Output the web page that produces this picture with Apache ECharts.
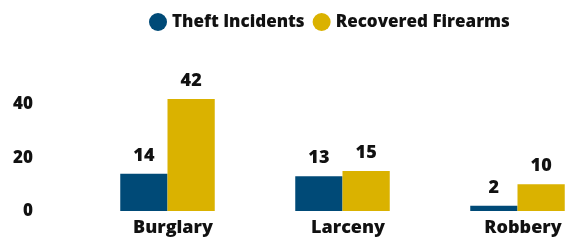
<!DOCTYPE html>
<html>
<head>
<meta charset="utf-8">
<script src="https://cdn.jsdelivr.net/npm/echarts@6/dist/echarts.min.js"></script>
<style>
  html, body { margin: 0; padding: 0; background: #fff; }
  #chart { width: 565px; height: 243px; }
</style>
</head>
<body>
<div id="chart"></div>
<script>
var categories = ['Burglary', 'Larceny', 'Robbery'];
var theftIncidents = [14, 13, 2];
var recoveredFirearms = [42, 15, 10];
var yTicks = [0, 20, 40];

var font = '"Open Sans", "Noto Sans", sans-serif';
var weight = 800;
var valueLabel = {
  show: true,
  position: 'top',
  distance: 9,
  fontFamily: font,
  fontWeight: weight,
  fontSize: 18,
  color: '#111'
};

var chart = echarts.init(document.getElementById('chart'));
chart.setOption({
  backgroundColor: '#fff',
  animation: false,
  legend: {
    top: 8,
    left: 144,
    icon: 'circle',
    itemWidth: 18,
    itemHeight: 18,
    itemGap: 8,
    textStyle: { fontFamily: font, fontWeight: weight, fontSize: 17, color: '#111' },
    data: ['Theft Incidents', 'Recovered Firearms']
  },
  grid: { left: 80, width: 525, top: 91, bottom: 32, outerBoundsMode: 'none' },
  xAxis: {
    type: 'category',
    data: categories,
    axisLine: { show: false },
    axisTick: { show: false },
    axisLabel: {
      fontFamily: font, fontWeight: weight, fontSize: 18, color: '#111',
      margin: 8, padding: [0, 0, 0, 11]
    }
  },
  yAxis: {
    type: 'value',
    min: yTicks[0],
    max: 45,
    interval: yTicks[1] - yTicks[0],
    splitLine: { show: false },
    axisLine: { show: false },
    axisTick: { show: false },
    axisLabel: {
      fontFamily: font, fontWeight: weight, fontSize: 17, color: '#111', margin: 47,
      formatter: function (v) { return yTicks.indexOf(v) >= 0 ? String(v) : ''; }
    }
  },
  series: [
    {
      name: 'Theft Incidents',
      type: 'bar',
      data: theftIncidents,
      barGap: '0%',
      barCategoryGap: '46%',
      itemStyle: { color: '#004A77' },
      label: valueLabel
    },
    {
      name: 'Recovered Firearms',
      type: 'bar',
      data: recoveredFirearms,
      barGap: '0%',
      barCategoryGap: '46%',
      itemStyle: { color: '#DAB200' },
      label: valueLabel
    }
  ]
});
</script>
</body>
</html>
